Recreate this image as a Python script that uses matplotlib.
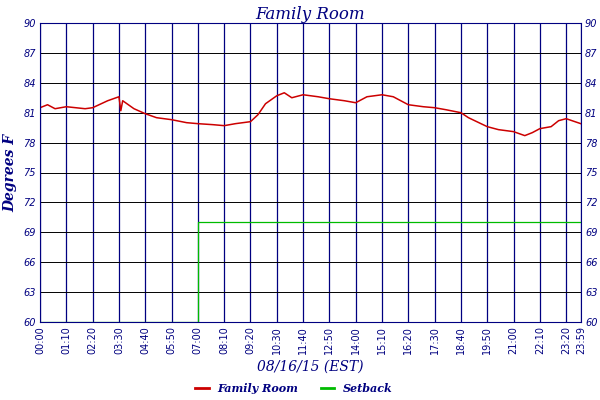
import matplotlib
matplotlib.use("Agg")
import matplotlib.pyplot as plt
from matplotlib.lines import Line2D

NAVY = "#000080"

# minutes since midnight, temperature (°F)
temp_times = ["00:00", "00:20", "00:40", "01:10", "02:00", "02:20", "03:00", "03:30",
              "03:35", "03:40", "04:10", "04:40", "05:10", "05:50", "06:30", "07:00",
              "07:40", "08:10", "08:40", "09:20", "09:40", "10:00", "10:30", "10:50",
              "11:10", "11:40", "12:20", "12:50", "13:30", "14:00", "14:30", "15:10",
              "15:40", "16:00", "16:20", "17:00", "17:30", "18:00", "18:40", "19:00",
              "19:50", "20:20", "21:00", "21:30", "21:50", "22:10", "22:40", "23:00",
              "23:20", "23:59"]
temp_vals = [81.5, 81.8, 81.4, 81.6, 81.4, 81.5, 82.2, 82.6,
             81.2, 82.2, 81.4, 80.9, 80.5, 80.3, 80.0, 79.9,
             79.8, 79.7, 79.9, 80.1, 80.8, 81.9, 82.7, 83.0,
             82.5, 82.8, 82.6, 82.4, 82.2, 82.0, 82.6, 82.8,
             82.6, 82.2, 81.8, 81.6, 81.5, 81.3, 81.0, 80.5,
             79.6, 79.3, 79.1, 78.7, 79.0, 79.4, 79.6, 80.2,
             80.4, 79.9]

setback_times = ["00:00", "07:00", "07:00", "23:59"]
setback_vals = [60, 60, 70, 70]

x_ticks = ["00:00", "01:10", "02:20", "03:30", "04:40", "05:50", "07:00", "08:10",
           "09:20", "10:30", "11:40", "12:50", "14:00", "15:10", "16:20", "17:30",
           "18:40", "19:50", "21:00", "22:10", "23:20", "23:59"]
y_ticks = [60, 63, 66, 69, 72, 75, 78, 81, 84, 87, 90]


def to_min(s):
    h, m = s.split(":")
    return int(h) * 60 + int(m)


fig = plt.figure(figsize=(6, 4), dpi=100)
ax = fig.add_axes([0.0667, 0.195, 0.9013, 0.7475])

ax.plot([to_min(t) for t in temp_times], temp_vals, color="#cc0000", lw=1.1)
ax.plot([to_min(t) for t in setback_times], setback_vals, color="#00bb00", lw=0.9)

xt = [to_min(t) for t in x_ticks]
ax.set_xlim(0, 1439)
ax.set_ylim(60, 90)
ax.set_xticks(xt)
ax.set_xticklabels(x_ticks, rotation=90, fontsize=7, color=NAVY, family="DejaVu Sans")
ax.set_yticks(y_ticks)
ax.set_yticklabels(y_ticks, fontsize=7, color=NAVY, style="italic")
ax.tick_params(axis="both", length=0, pad=3)
ax.tick_params(axis="y", labelright=True)
for x in xt:
    ax.axvline(x, color=NAVY, lw=0.9, zorder=0)
for y in y_ticks:
    ax.axhline(y, color="black", lw=0.7, zorder=0)
for s in ax.spines.values():
    s.set_color(NAVY)

ax.set_title("Family Room", fontsize=12, color=NAVY, family="DejaVu Serif",
             style="italic", pad=3)
ax.set_ylabel("Degrees F", fontsize=10, color=NAVY, family="DejaVu Serif",
              style="italic", fontweight="bold", labelpad=4)
ax.set_xlabel("08/16/15 (EST)", fontsize=10, color=NAVY, family="DejaVu Serif",
              style="italic", labelpad=4)

handles = [Line2D([], [], color="#cc0000", lw=2), Line2D([], [], color="#00bb00", lw=2)]
fig.legend(handles, ["Family Room", "Setback"], loc="lower center", ncol=2,
           frameon=False, bbox_to_anchor=(0.49, -0.01), handlelength=1.2,
           prop={"family": "DejaVu Serif", "style": "italic", "weight": "bold", "size": 8},
           labelcolor=NAVY)

fig.savefig("out.png", dpi=100)
